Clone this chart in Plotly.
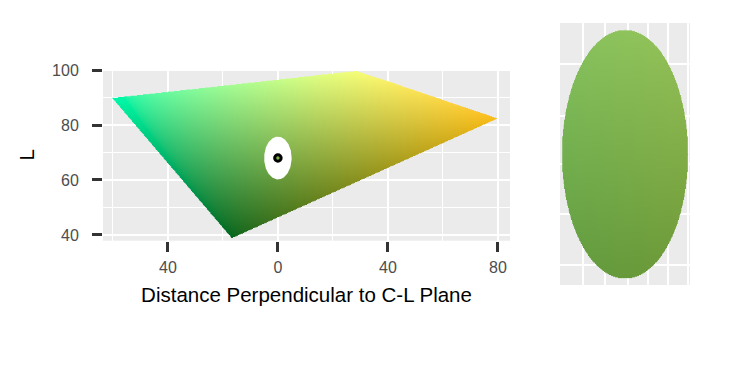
import numpy as np
import plotly.graph_objects as go
import zlib, struct, base64

# ---------------- data ----------------
# outline of the colour slice (distance perpendicular to C-L plane, L)
slice_x = [-60.2, 28.6, 79.7, -16.8]
slice_L = [89.8, 99.7, 82.4, 38.8]

# colour samples (position -> sRGB)
sample_x = [-59.0, 27.0, 77.5, -16.5, -35.0, 40.0, 15.0, 0.0, 0.0, 0.0]
sample_L = [89.5, 98.5, 82.0, 41.0, 72.0, 66.0, 90.0, 74.5, 61.5, 68.0]
sample_rgb = [(44, 245, 160), (248, 250, 112), (245, 184, 32), (20, 108, 34),
              (46, 194, 122), (176, 160, 16), (192, 238, 128), (126, 188, 80),
              (106, 156, 62), (116, 172, 72)]

# target colour and its ellipse
centre_x = [0.0]
centre_L = [68.0]
ellipse_rx = [5.0]
ellipse_rL = [7.8]

# axis ticks
x_tickvals = [-40, 0, 40, 80]
x_ticktext = ["40", "0", "40", "80"]
y_tickvals = [40, 60, 80, 100]
right_grid_x = [-3.3, -1.55, 0.2, 1.8, 3.4, 5.0]
right_grid_L = [61.1, 64.3, 67.4, 70.4, 73.7]


# ---------------- colour helpers ----------------
M = np.array([[0.4124, 0.3576, 0.1805], [0.2126, 0.7152, 0.0722], [0.0193, 0.1192, 0.9505]])
WN = np.array([0.95047, 1.0, 1.08883])


def rgb_to_lab(rgb):
    c = np.asarray(rgb, float) / 255.0
    lin = np.where(c <= 0.04045, c / 12.92, ((c + 0.055) / 1.055) ** 2.4)
    xyz = lin @ M.T / WN
    f = np.where(xyz > 216 / 24389, np.cbrt(xyz), (24389 / 27 * xyz + 16) / 116)
    return np.stack([116 * f[..., 1] - 16, 500 * (f[..., 0] - f[..., 1]), 200 * (f[..., 1] - f[..., 2])], -1)


def lab_to_rgb(lab):
    L, a, b = lab[..., 0], lab[..., 1], lab[..., 2]
    fy = (L + 16) / 116
    fx = fy + a / 500
    fz = fy - b / 200
    f = np.stack([fx, fy, fz], -1)
    xyz = np.where(f ** 3 > 216 / 24389, f ** 3, (116 * f - 16) / (24389 / 27)) * WN
    lin = xyz @ np.linalg.inv(M).T
    lin = np.clip(lin, 0, 1)
    c = np.where(lin <= 0.0031308, 12.92 * lin, 1.055 * lin ** (1 / 2.4) - 0.055)
    return np.clip(np.round(c * 255), 0, 255).astype(np.uint8)


# linear colour model in Lab fitted to the samples
A = np.column_stack([np.ones(len(sample_x)), sample_x, sample_L])
coef, *_ = np.linalg.lstsq(A, rgb_to_lab(sample_rgb), rcond=None)


def colour_at(X, Y):
    lab = coef[0] + X[..., None] * coef[1] + Y[..., None] * coef[2]
    return lab_to_rgb(lab)


def png_uri(rgba):
    h, w, _ = rgba.shape
    raw = b"".join(b"\x00" + rgba[i].tobytes() for i in range(h))

    def chunk(tag, data):
        return struct.pack(">I", len(data)) + tag + data + struct.pack(">I", zlib.crc32(tag + data) & 0xFFFFFFFF)

    png = (b"\x89PNG\r\n\x1a\n" + chunk(b"IHDR", struct.pack(">IIBBBBB", w, h, 8, 6, 0, 0, 0))
           + chunk(b"IDAT", zlib.compress(raw, 9)) + chunk(b"IEND", b""))
    return "data:image/png;base64," + base64.b64encode(png).decode()


# ---------------- left: colour slice ----------------
step = 0.25
xs = np.arange(min(slice_x) - 1, max(slice_x) + 1, step)
ys = np.arange(min(slice_L) - 1, max(slice_L) + 1, step)
XX, YY = np.meshgrid(xs, ys)
px, py = np.array(slice_x), np.array(slice_L)
inside = np.ones_like(XX, bool)
n = len(px)
for i in range(n):
    j = (i + 1) % n
    cross = (px[j] - px[i]) * (YY - py[i]) - (py[j] - py[i]) * (XX - px[i])
    inside &= cross <= 0
rgba = np.zeros(XX.shape + (4,), np.uint8)
rgba[..., :3] = colour_at(XX, YY)
rgba[..., 3] = np.where(inside, 255, 0)

# ---------------- right: ellipse swatch ----------------
rdx, rdy = 0.05, 0.05
rxs = np.arange(-ellipse_rx[0] - 0.2, ellipse_rx[0] + 0.2, rdx)
rys = np.arange(centre_L[0] - ellipse_rL[0] - 0.2, centre_L[0] + ellipse_rL[0] + 0.2, rdy)
RX, RY = np.meshgrid(rxs, rys)
ein = ((RX - centre_x[0]) / ellipse_rx[0]) ** 2 + ((RY - centre_L[0]) / ellipse_rL[0]) ** 2 <= 1
rgba2 = np.zeros(RX.shape + (4,), np.uint8)
rgba2[..., :3] = colour_at(RX, RY)
rgba2[..., 3] = np.where(ein, 255, 0)

fig = go.Figure()
fig.add_trace(go.Image(source=png_uri(rgba), x0=xs[0], dx=step, y0=ys[0], dy=step,
                       zsmooth="fast", hoverinfo="skip", xaxis="x", yaxis="y"))

t = np.linspace(0, 2 * np.pi, 200)
fig.add_trace(go.Scatter(x=centre_x[0] + ellipse_rx[0] * np.cos(t), y=centre_L[0] + ellipse_rL[0] * np.sin(t),
                         mode="lines", fill="toself", fillcolor="white", line=dict(width=0, color="white"),
                         hoverinfo="skip", showlegend=False, xaxis="x", yaxis="y"))
c0 = colour_at(np.array(centre_x), np.array(centre_L))[0]
fig.add_trace(go.Scatter(x=centre_x, y=centre_L, mode="markers",
                         marker=dict(size=6.5, color="rgb(%d,%d,%d)" % tuple(c0), line=dict(color="black", width=3)),
                         showlegend=False, xaxis="x", yaxis="y"))
fig.add_trace(go.Image(source=png_uri(rgba2), x0=rxs[0], dx=rdx, y0=rys[0], dy=rdy,
                       zsmooth="fast", hoverinfo="skip", xaxis="x2", yaxis="y2"))

W, H = 750, 375
grid = "white"
tickfont = dict(family="Liberation Sans, Arial, sans-serif", size=16, color="#4D4D4D")
titlefont = dict(family="Liberation Sans, Arial, sans-serif", size=20.5, color="black")
fig.update_layout(
    width=W, height=H, margin=dict(l=0, r=0, t=0, b=0),
    paper_bgcolor="white", plot_bgcolor="#EBEBEB", showlegend=False,
    font=dict(family="Liberation Sans, Arial, sans-serif"),
    xaxis=dict(domain=[103 / W, 510 / W], range=[-63.6, 84.4], anchor="y", constrain="domain",
               tickmode="array", tickvals=x_tickvals, ticktext=x_ticktext,
               ticks="outside", ticklen=10, tickwidth=3, tickcolor="#333333",
               tickfont=tickfont, ticklabelstandoff=2,
               showgrid=True, gridcolor=grid, gridwidth=2.2, zeroline=False, showline=False,
               minor=dict(tick0=0, dtick=20, showgrid=True, gridcolor=grid, gridwidth=1.1, ticks=""),
               title=dict(text="Distance Perpendicular to C-L Plane", standoff=12, font=titlefont),
               automargin=False),
    yaxis=dict(domain=[(H - 240.7) / H, (H - 69) / H], range=[37.9, 100.4], anchor="x",
               scaleanchor=False, constrain="domain",
               tickmode="array", tickvals=y_tickvals,
               ticks="outside", ticklen=10, tickwidth=3, tickcolor="#333333",
               tickfont=tickfont, ticklabelstandoff=10,
               showgrid=True, gridcolor=grid, gridwidth=2.2, zeroline=False, showline=False,
               minor=dict(tick0=0, dtick=10, showgrid=True, gridcolor=grid, gridwidth=1.1, ticks=""),
               title=dict(text="L", standoff=11, font=titlefont),
               automargin=False),
    xaxis2=dict(domain=[560 / W, 690 / W], range=[-5.16, 5.16], anchor="y2", constrain="domain",
                tickmode="array", tickvals=right_grid_x, showticklabels=False, ticks="",
                showgrid=True, gridcolor=grid, gridwidth=1.6, zeroline=False, showline=False),
    yaxis2=dict(domain=[(H - 285) / H, (H - 23) / H], range=[59.82, 76.24], anchor="x2",
                scaleanchor=False, constrain="domain",
                tickmode="array", tickvals=right_grid_L, showticklabels=False, ticks="",
                showgrid=True, gridcolor=grid, gridwidth=1.6, zeroline=False, showline=False),
)

fig.write_html("out.html")
